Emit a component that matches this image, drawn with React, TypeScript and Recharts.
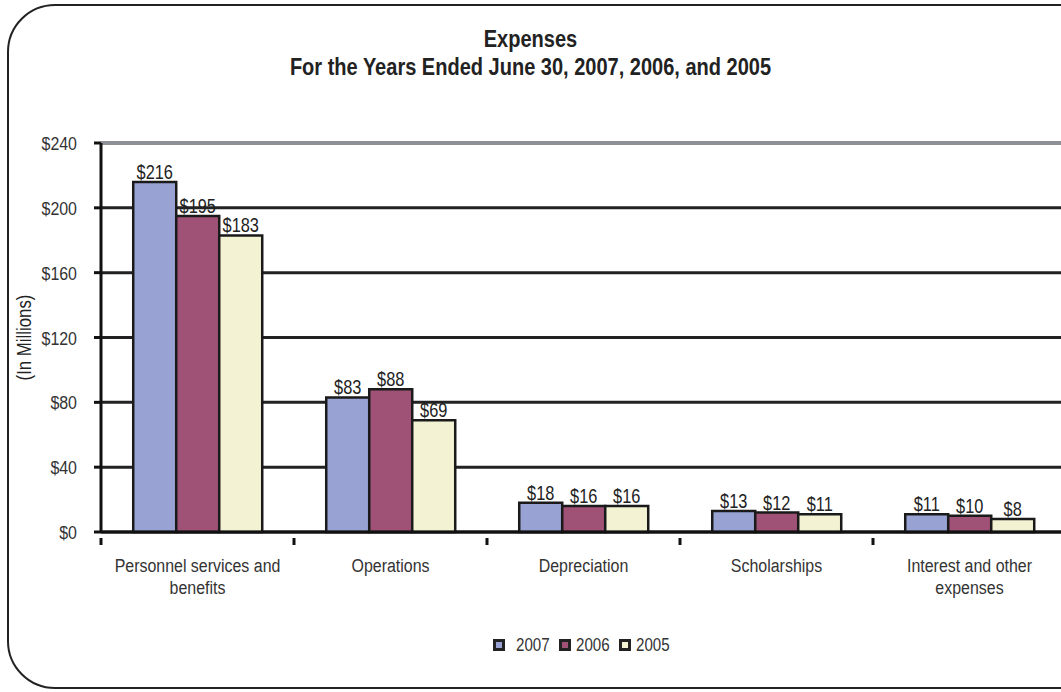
import React from 'react';
import { BarChart, Bar, XAxis, YAxis, CartesianGrid, ReferenceLine, LabelList } from 'recharts';

const categories = ['Personnel services  and benefits', 'Operations', 'Depreciation', 'Scholarships', 'Interest and other expenses'];
const tickLines: string[][] = [['Personnel services  and', 'benefits'], ['Operations'], ['Depreciation'], ['Scholarships'], ['Interest and other', 'expenses']];
const values2007 = [216, 83, 18, 13, 11];
const values2006 = [195, 88, 16, 12, 10];
const values2005 = [183, 69, 16, 11, 8];
const yTicks = [0, 40, 80, 120, 160, 200, 240];
const seriesNames = ['2007', '2006', '2005'];

const data = categories.map((c, i) => ({
  name: c,
  idx: i,
  y2007: values2007[i],
  y2006: values2006[i],
  y2005: values2005[i],
}));

const FONT = "'Liberation Sans', Arial, sans-serif";
const SX = 0.84;
const COLORS = ['#99A3D3', '#A05276', '#F3F3D3'];
const CHART_W = 1080;
const MARGIN = { top: 143, right: 14, left: 41, bottom: 100 };
const Y_W = 60;
const PLOT_W = CHART_W - MARGIN.left - MARGIN.right - Y_W;
const BAND = PLOT_W / categories.length;

const NText = ({ x, y, anchor = 'middle', size = 19, fill = '#333', rotate = 0, children }: any) => (
  <text
    transform={`translate(${x},${y})${rotate ? ` rotate(${rotate})` : ''} scale(${SX},1)`}
    x={0}
    y={0}
    textAnchor={anchor}
    fill={fill}
    fontSize={size}
    fontFamily={FONT}
  >
    {children}
  </text>
);

const CatTick = (props: any) => {
  const { x, y, payload, index } = props;
  const lines = tickLines[index] || [String(payload.value)];
  return (
    <g>
      <line x1={x - BAND / 2} x2={x - BAND / 2} y1={y - 2} y2={y + 5} stroke="#111" strokeWidth={3} />
      {lines.map((l, i) => (
        <NText key={i} x={x} y={y + 32 + i * 22}>
          {l}
        </NText>
      ))}
    </g>
  );
};

const YTick = (props: any) => {
  const { x, y, payload } = props;
  return (
    <NText x={x} y={y + 7} anchor="end">
      {'$' + payload.value}
    </NText>
  );
};

const ValueLabel = (props: any) => {
  const { x, y, width, value } = props;
  return (
    <NText x={x + width / 2} y={y - 3} fill="#222" size={19.5}>
      {'$' + value}
    </NText>
  );
};

export default function App() {
  return (
    <div style={{ position: 'absolute', left: 0, top: 0, width: 1061, height: 692, overflow: 'hidden', background: '#fff', fontFamily: FONT }}>
      <div style={{ position: 'absolute', left: 7, top: 4, width: 1100, height: 681, border: '2.5px solid #222', borderRadius: 48 }} />
      <div style={{ position: 'absolute', left: 0, top: 25, width: 1061, textAlign: 'center', fontWeight: 'bold', fontSize: 23, color: '#222', lineHeight: '28px', transform: 'scaleX(0.87)' }}>
        <div>Expenses</div>
        <div>For the Years Ended June 30, 2007, 2006, and 2005</div>
      </div>
      <div style={{ position: 'absolute', left: 0, top: 0 }}>
        <BarChart width={CHART_W} height={692} data={data} margin={MARGIN} barCategoryGap="16.7%" barGap={0}>
          <CartesianGrid horizontal vertical={false} stroke="#222" strokeWidth={3} />
          <ReferenceLine y={240} stroke="#8c9298" strokeWidth={3} />
          <XAxis
            dataKey="name"
            interval={0}
            height={60}
            axisLine={{ stroke: '#111', strokeWidth: 3 }}
            tickLine={false}
            tick={<CatTick />}
          />
          <YAxis
            width={Y_W}
            domain={[0, 240]}
            ticks={yTicks}
            axisLine={{ stroke: '#111', strokeWidth: 3 }}
            tickLine={{ stroke: '#111', strokeWidth: 3 }}
            tickSize={7}
            tickMargin={17}
            tick={<YTick />}
            label={(p: any) => {
              const vb = p.viewBox || { x: 41, y: 143, height: 389 };
              const cx = 31;
              const cy = vb.y + vb.height / 2;
              return (
                <NText x={cx} y={cy} rotate={-90} size={20} fill="#222">
                  (In Millions)
                </NText>
              );
            }}
          />
          <Bar dataKey="y2007" name={seriesNames[0]} fill={COLORS[0]} stroke="#1a1a1a" strokeWidth={2.5} isAnimationActive={false}>
            <LabelList dataKey="y2007" content={<ValueLabel />} />
          </Bar>
          <Bar dataKey="y2006" name={seriesNames[1]} fill={COLORS[1]} stroke="#1a1a1a" strokeWidth={2.5} isAnimationActive={false}>
            <LabelList dataKey="y2006" content={<ValueLabel />} />
          </Bar>
          <Bar dataKey="y2005" name={seriesNames[2]} fill={COLORS[2]} stroke="#1a1a1a" strokeWidth={2.5} isAnimationActive={false}>
            <LabelList dataKey="y2005" content={<ValueLabel />} />
          </Bar>
        </BarChart>
      </div>
      <div style={{ position: 'absolute', left: 493, top: 633, display: 'flex', alignItems: 'center', fontSize: 18, color: '#333', lineHeight: '24px' }}>
        {seriesNames.map((n, i) => (
          <div key={n} style={{ display: 'flex', alignItems: 'center', marginRight: 9 }}>
            <span style={{ display: 'inline-block', width: 6, height: 6, background: COLORS[i], border: '3px solid #222', marginRight: i === 0 ? 11 : 5 }} />
            <span style={{ display: 'inline-block', transform: `scaleX(${SX})`, transformOrigin: 'left center', width: 34 }}>{n}</span>
          </div>
        ))}
      </div>
    </div>
  );
}
